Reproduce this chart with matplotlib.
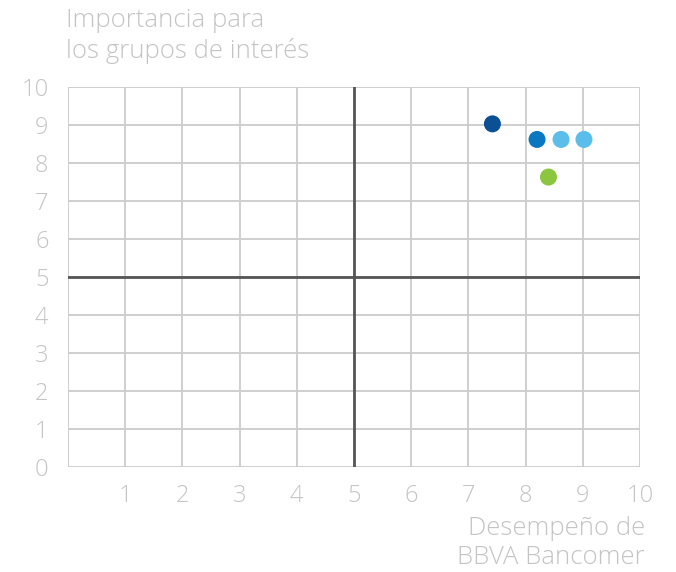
import matplotlib
matplotlib.use("Agg")
import matplotlib.pyplot as plt

# desempeño (x) vs importancia (y)
desempeno = [7.42, 8.2, 8.62, 9.02, 8.4]
importancia = [9.03, 8.62, 8.62, 8.62, 7.63]
colores = ["#0b4f95", "#0a78c0", "#5bbde9", "#5bbde9", "#8cc63e"]

x_ticks = [1, 2, 3, 4, 5, 6, 7, 8, 9, 10]
y_ticks = [0, 1, 2, 3, 4, 5, 6, 7, 8, 9, 10]

gris_texto = "#c4c4c4"
gris_rejilla = "#cccccc"

plt.rcParams["font.family"] = ["Open Sans", "DejaVu Sans"]

fig = plt.figure(figsize=(6.76, 5.72), dpi=100)
ax = fig.add_axes([68 / 676, 105 / 572, 572 / 676, 380 / 572])

ax.set_xlim(0, 10)
ax.set_ylim(0, 10)

for v in range(0, 11):
    ax.axvline(v, color=gris_rejilla, lw=1.3, zorder=1)
    ax.axhline(v, color=gris_rejilla, lw=1.3, zorder=1)

ax.axvline(5, color="#555555", lw=2, zorder=2)
ax.axhline(5, color="#555555", lw=2, zorder=2)

ax.scatter(desempeno, importancia, c=colores, s=150, zorder=3, linewidths=0)

for s in ax.spines.values():
    s.set_visible(False)

ax.set_xticks(x_ticks)
ax.set_yticks(y_ticks)
ax.tick_params(length=0, labelsize=17, colors=gris_texto, pad=12)
ax.tick_params(axis="y", pad=14)
for lab in ax.get_xticklabels() + ax.get_yticklabels():
    lab.set_fontweight("light")

fig.text(66 / 676, 1 - 36 / 572, "Importancia para\nlos grupos de interés",
         ha="left", va="center", fontsize=18.5, color=gris_texto,
         fontweight="light", linespacing=1.25)
fig.text(645 / 676, 1 - 543 / 572, "Desempeño de\nBBVA Bancomer",
         ha="right", va="center", fontsize=18.5, color=gris_texto,
         fontweight="light", linespacing=1.25)

fig.savefig("out.png", dpi=100)
